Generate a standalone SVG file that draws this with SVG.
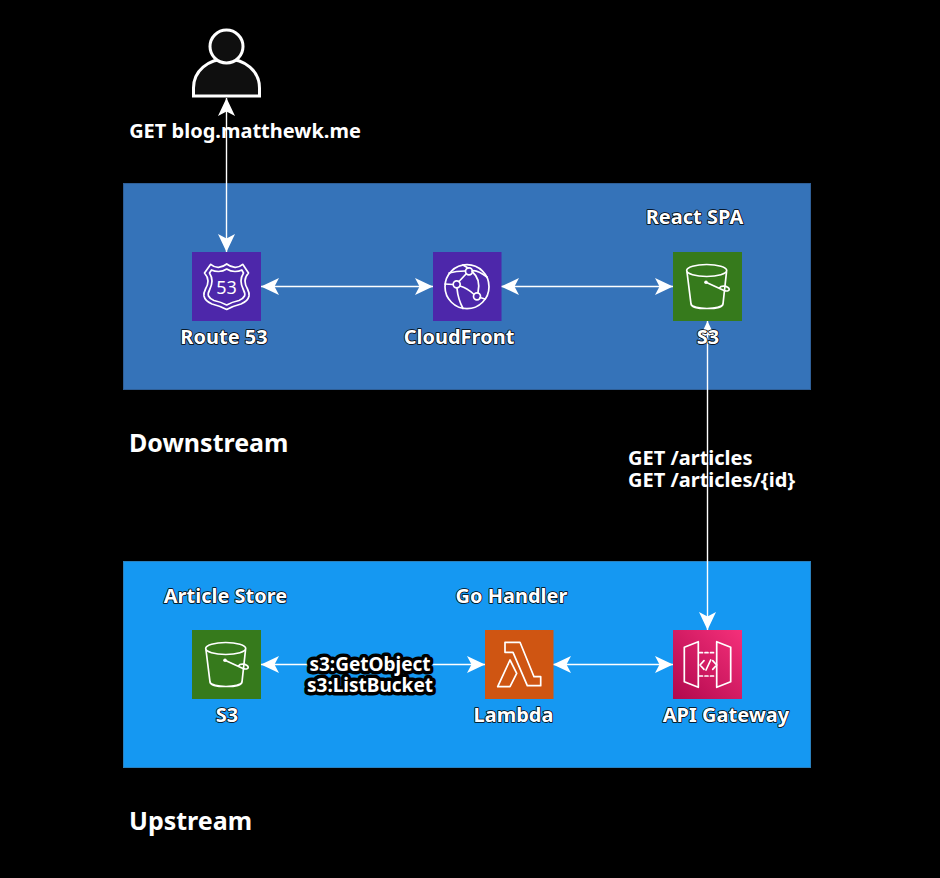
<svg xmlns="http://www.w3.org/2000/svg" width="940" height="878" viewBox="0 0 940 878">
<style>
text{font-family:"Noto Sans","Open Sans",sans-serif;font-weight:700;font-size:20px;fill:#fff}
.m{text-anchor:middle}
.h{paint-order:stroke;stroke:#000;stroke-width:1.6px;stroke-linejoin:round}
.k{font-size:19px;paint-order:stroke;stroke:#000;stroke-width:7px;stroke-linejoin:round}
.t{font-size:25px}
.c{fill:none;stroke:#fff;stroke-width:1.4;marker-start:url(#a);marker-end:url(#a)}
.i{fill:none;stroke:#fff;stroke-width:1.7;stroke-linejoin:round;stroke-linecap:round}
</style>
<defs>
<marker id="a" markerUnits="userSpaceOnUse" markerWidth="20" markerHeight="20" refX="18" refY="10" orient="auto-start-reverse"><path d="M18 10L0 18.500L4.500 10L0 1.500Z" fill="#fff"/></marker>
<linearGradient id="g" x1="0" y1="1" x2="1" y2="0"><stop offset="0" stop-color="#b0084d"/><stop offset="1" stop-color="#f5307a"/></linearGradient>
<g id="bucket">
<ellipse class="i" cx="706.700" cy="270.500" rx="20" ry="6"/>
<path class="i" d="M687 272L691 304C692 310 722 310 723 304L726.500 272"/>
<path class="i" d="M706 282.300L724 290.500C728 292 731 289.500 728 287.500C725.500 285.800 721 285.500 719.500 288"/>
<circle cx="706" cy="282.300" r="1.800" fill="#fff"/>
</g>
</defs>
<rect width="940" height="878" fill="#000"/>
<g id="downstream"><rect x="123.500" y="183.500" width="687" height="206" fill="#3573b9" stroke="#2f5f97"/><text class="t" x="129" y="452">Downstream</text></g>
<g id="upstream"><rect x="123.500" y="561.500" width="687" height="206" fill="#1598f2" stroke="#2a80bd"/><text class="t" x="129" y="830">Upstream</text></g>
<g id="connectors">
<path class="c" d="M226.500 98V252"/>
<path class="c" d="M261 286.500H433"/>
<path class="c" d="M501 286.500H673"/>
<path class="c" d="M707.500 321V630"/>
<path class="c" d="M553 664.500H673"/>
<path class="c" d="M261 664.500H485"/>
</g>
<g id="user">
<path d="M193.500 96V88C193.500 71 208 59 226.500 59S259.500 71 259.500 88V96Z" fill="#0f0f0f" stroke="#fff" stroke-width="3"/>
<circle cx="226.500" cy="46.500" r="16.500" fill="#0f0f0f" stroke="#fff" stroke-width="3"/>
<text class="m" x="245" y="138">GET blog.matthewk.me</text>
</g>
<g id="route53">
<rect x="192" y="252" width="69" height="69" fill="#4d27aa"/>
<path class="i" d="M204.500 273L210.700 264.300Q214.500 267.500 218.500 267.300Q223 267 226.700 264Q230.500 267 235 267.300Q239 267.500 242.700 264.300L248.500 273Q245 277 245 281Q245 285 247.500 289Q249.500 293 249 296Q248 301 241 304Q233 306 226.700 309.500Q220 306 212 304Q205 301 204 296Q203.500 293 205.500 289Q208 285 208 281Q208 277 204.500 273Z"/>
<path class="i" d="M209.500 273L211.500 270Q214.500 271.500 218.500 271.500Q223 271.500 226.700 269Q230.500 271.500 235 271.500Q239 271.500 241.800 270L243.500 273Q241 277 241 281Q241 285 243.500 290Q245.500 294 244.500 296Q243 299 239 300.500Q232 302 226.700 305Q221 302 214 300.500Q210 299 208.500 296Q207.500 294 209.500 290Q212 285 212 281Q212 277 209.500 273Z"/>
<text x="226.500" y="293.500" text-anchor="middle" style="font-size:18px;font-weight:400">53</text>
<text class="m h" x="224" y="344">Route 53</text>
</g>
<g id="cloudfront">
<rect x="433" y="252" width="68.500" height="69" fill="#4d27aa"/>
<circle class="i" cx="467" cy="286.700" r="22"/>
<path class="i" d="M449 273Q456 271 465 271M472.500 272Q481 279 478 292.500M459 281.500L466 274M460 286Q467 288 473.500 294M453 284.500L445 284M457 288.500Q458 299 463 308.500M480 297.500L485 299M472 271Q476 269 487 277M468 268L463 265"/>
<circle class="i" cx="469" cy="271.300" r="3.500"/>
<circle class="i" cx="456.700" cy="284.300" r="3.500"/>
<circle class="i" cx="477" cy="296.300" r="3.500"/>
<text class="m h" x="459" y="344">CloudFront</text>
</g>
<g id="s3-spa">
<rect x="673" y="252" width="69" height="69" fill="#367a1c"/>
<use href="#bucket"/>
<text class="m h" x="694.500" y="224">React SPA</text>
<text class="m h" x="708" y="344">S3</text>
</g>
<g id="s3-store">
<rect x="192" y="630" width="69" height="69" fill="#367a1c"/>
<use href="#bucket" x="-481" y="378"/>
<text class="m h" x="225.500" y="603">Article Store</text>
<text class="m h" x="227" y="722">S3</text>
</g>
<g id="lambda">
<rect x="485" y="630" width="68.500" height="69" fill="#cf5512"/>
<path class="i" d="M505 642.300H520L534 676.700H540.700V685.700H527.300L513 652.300H505Z"/>
<path class="i" d="M510 660L516.700 673.300L510 686.700H497.700Z"/>
<text class="m h" x="513.500" y="722">Lambda</text>
<text class="m h" x="511.500" y="603">Go Handler</text>
</g>
<g id="api-gateway">
<rect x="673" y="630" width="69" height="69" fill="url(#g)"/>
<path class="i" d="M684.300 647.300L698.300 641.700V687.300L684.300 681.700Z"/>
<path class="i" d="M730.700 647.300L716.700 641.700V687.300L730.700 681.700Z"/>
<path class="i" d="M699.500 652.700H716M699.500 676H716" stroke-dasharray="3 2.500" stroke-linecap="butt"/>
<path class="i" d="M704 660.700L700 665L704 669.300M710.700 660L706 670M712.700 660.700L716.700 665L712.700 669.300"/>
<text class="m h" x="726" y="722">API Gateway</text>
</g>
<g id="labels">
<text y="465"><tspan x="628">GET /articles</tspan><tspan x="628" dy="22">GET /articles/{id}</tspan></text>
<text class="m k" y="670.500"><tspan x="370">s3:GetObject</tspan><tspan x="370" dy="21">s3:ListBucket</tspan></text>
</g>
</svg>
